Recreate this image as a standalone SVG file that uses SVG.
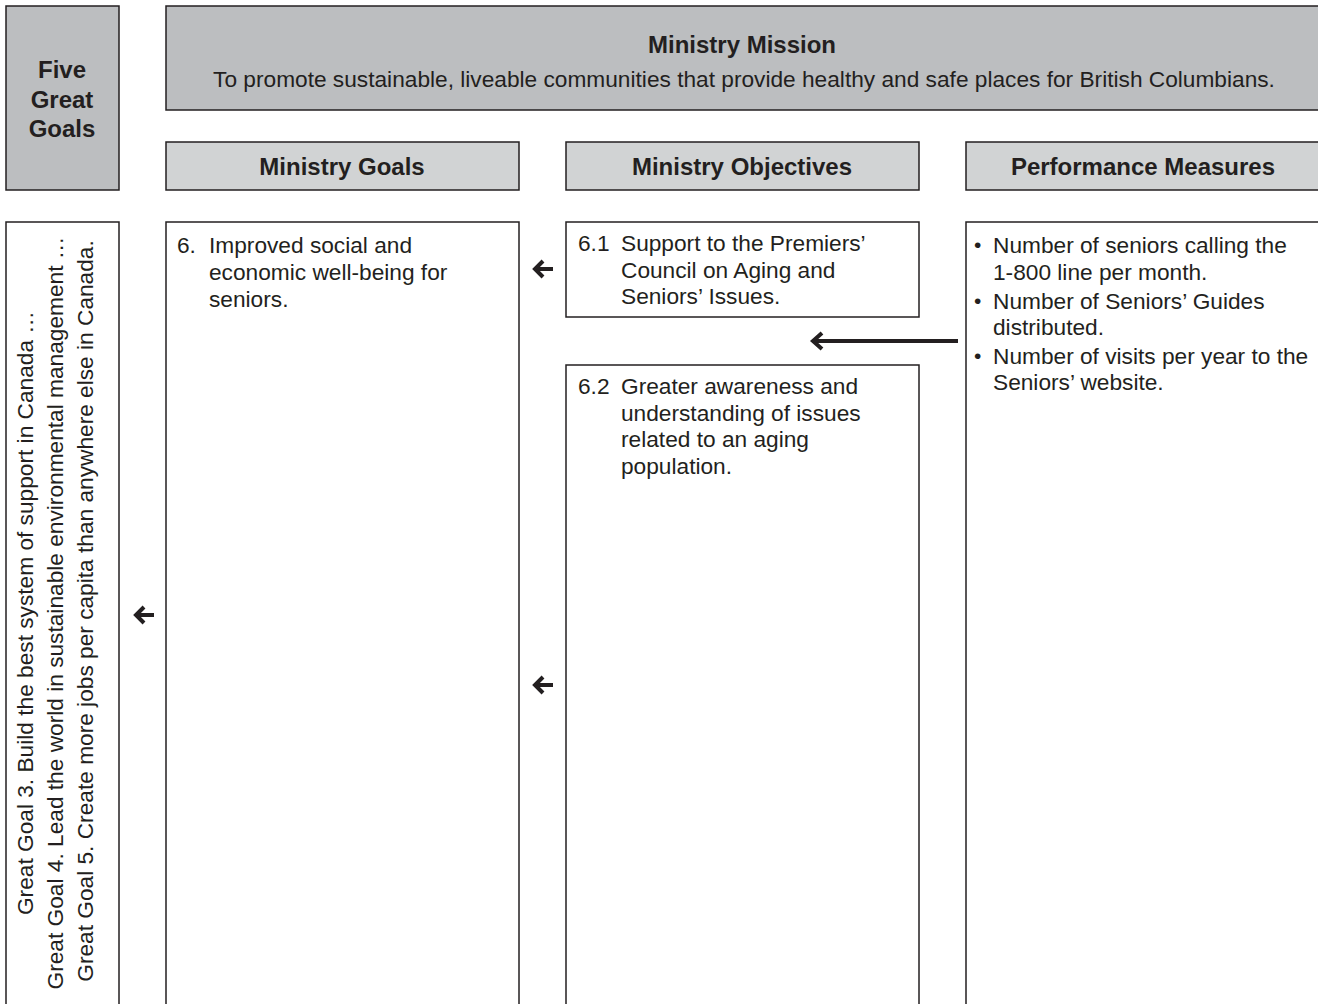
<svg xmlns="http://www.w3.org/2000/svg" width="1318" height="1004" viewBox="0 0 1318 1004">
<defs>
<style>
.box{fill:#ffffff;stroke:#231f20;stroke-width:1.5}
.dark{fill:#bcbec0;stroke:#231f20;stroke-width:1.5}
.light{fill:#d1d3d4;stroke:#231f20;stroke-width:1.5}
text{font-family:"Liberation Sans",Arial,sans-serif;font-size:22.7px;fill:#231f20}
.b{font-weight:bold;font-size:24px}
.c{text-anchor:middle}
.bul{font-size:21px}
.arr{fill:none;stroke:#231f20;stroke-width:4;stroke-linecap:butt}
</style>
</defs>
<rect width="1318" height="1004" fill="#ffffff"/>
<g id="five-great-goals">
<rect class="dark" x="6" y="6" width="113" height="184"/>
<text class="b c" x="62" y="78">Five</text>
<text class="b c" x="62" y="108">Great</text>
<text class="b c" x="62" y="137">Goals</text>
</g>
<g id="ministry-mission">
<rect class="dark" x="166" y="6" width="1170" height="104"/>
<text class="b c" x="742" y="53">Ministry Mission</text>
<text class="c" x="744" y="87">To promote sustainable, liveable communities that provide healthy and safe places for British Columbians.</text>
</g>
<g id="header-goals">
<rect class="light" x="166" y="142" width="353" height="48"/>
<text class="b c" x="342" y="175">Ministry Goals</text>
</g>
<g id="header-objectives">
<rect class="light" x="566" y="142" width="353" height="48"/>
<text class="b c" x="742" y="175">Ministry Objectives</text>
</g>
<g id="header-measures">
<rect class="light" x="966" y="142" width="370" height="48"/>
<text class="b c" x="1143" y="175">Performance Measures</text>
</g>
<g id="great-goals-list">
<rect class="box" x="6" y="222" width="113" height="800"/>
<text class="c" transform="translate(33,613) rotate(-90)">Great Goal 3. Build the best system of support in Canada …</text>
<text class="c" transform="translate(63,613) rotate(-90)">Great Goal 4. Lead the world in sustainable environmental management …</text>
<text class="c" transform="translate(93,611) rotate(-90)">Great Goal 5. Create more jobs per capita than anywhere else in Canada.</text>
</g>
<g id="goal-6">
<rect class="box" x="166" y="222" width="353" height="800"/>
<text x="177" y="253">6.</text>
<text x="209" y="253">Improved social and</text>
<text x="209" y="280">economic well-being for</text>
<text x="209" y="307">seniors.</text>
</g>
<g id="objective-6-1">
<rect class="box" x="566" y="222" width="353" height="95"/>
<text x="578" y="251">6.1</text>
<text x="621" y="251">Support to the Premiers’</text>
<text x="621" y="278">Council on Aging and</text>
<text x="621" y="304">Seniors’ Issues.</text>
</g>
<g id="objective-6-2">
<rect class="box" x="566" y="365" width="353" height="660"/>
<text x="578" y="394">6.2</text>
<text x="621" y="394">Greater awareness and</text>
<text x="621" y="421">understanding of issues</text>
<text x="621" y="447">related to an aging</text>
<text x="621" y="474">population.</text>
</g>
<g id="performance-measures">
<rect class="box" x="966" y="222" width="370" height="800"/>
<text class="bul" x="974" y="252">•</text>
<text x="993" y="253">Number of seniors calling the</text>
<text x="993" y="280">1-800 line per month.</text>
<text class="bul" x="974" y="308">•</text>
<text x="993" y="309">Number of Seniors’ Guides</text>
<text x="993" y="335">distributed.</text>
<text class="bul" x="974" y="363">•</text>
<text x="993" y="364">Number of visits per year to the</text>
<text x="993" y="390">Seniors’ website.</text>
</g>
<g id="connectors">
<path class="arr" d="M553 269 H537 M543 261 L535 269 L543 277"/>
<path class="arr" d="M553 685 H537 M543 677 L535 685 L543 693"/>
<path class="arr" d="M154 615 H138 M144 607 L136 615 L144 623"/>
<path class="arr" d="M958 341 H814 M822 333 L813 341 L822 349"/>
</g>
</svg>
